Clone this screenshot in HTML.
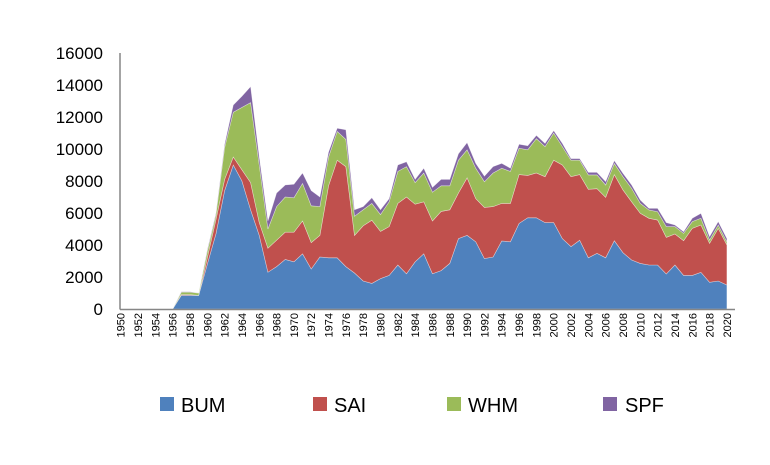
<!DOCTYPE html>
<html><head><meta charset="utf-8"><style>
body{margin:0;background:#fff;}
svg{display:block;font-family:"Liberation Sans",sans-serif;}
</style></head><body>
<svg id="chart" width="770" height="465">
  <g id="areas"></g>
  <line x1="120" y1="53" x2="120" y2="309.5" stroke="#868686" stroke-width="1.5"/>
  <line x1="120" y1="309.5" x2="735" y2="309.5" stroke="#868686" stroke-width="1.5"/>
  <g id="yticks"></g>
  <g id="xticks"></g>
  <g>
    <g><rect x="160" y="397" width="14" height="14" fill="#4F81BD"/><text x="181" y="412" font-size="20">BUM</text></g>
    <g><rect x="313" y="397" width="14" height="14" fill="#C0504D"/><text x="334" y="412" font-size="20">SAI</text></g>
    <g><rect x="447" y="397" width="14" height="14" fill="#9BBB59"/><text x="468" y="412" font-size="20">WHM</text></g>
    <g><rect x="603" y="397" width="14" height="14" fill="#8064A2"/><text x="625" y="412" font-size="20">SPF</text></g>
  </g>
</svg>
<script>
const years = [];
for (let y = 1950; y <= 2020; y++) years.push(y);
const bum = [0,0,0,0,0,0,0,.85,.85,.85,2.8,4.7,7.4,9.0,8.0,6.2,4.6,2.3,2.65,3.1,2.95,3.45,2.5,3.25,3.2,3.2,2.65,2.25,1.75,1.6,1.9,2.1,2.75,2.2,2.95,3.45,2.2,2.4,2.85,4.4,4.6,4.2,3.15,3.25,4.25,4.2,5.35,5.7,5.7,5.4,5.4,4.4,3.9,4.3,3.2,3.48,3.2,4.27,3.52,3.06,2.85,2.75,2.75,2.19,2.75,2.1,2.1,2.29,1.67,1.75,1.5].map(v=>v*1000);
const sai = [0,0,0,0,0,0,0,.05,.05,0,.4,.9,.7,.5,.7,1.7,.8,1.5,1.65,1.7,1.85,2.05,1.65,1.35,4.5,6.1,6.25,2.35,3.45,3.95,2.95,3.05,3.85,4.8,3.6,3.25,3.3,3.7,3.35,2.85,3.6,2.7,3.2,3.15,2.35,2.4,3.05,2.65,2.8,2.87,3.9,4.6,4.37,4.1,4.28,4.04,3.78,4.13,3.92,3.64,3.13,2.92,2.81,2.29,1.94,2.17,2.94,2.96,2.43,3.29,2.5].map(v=>v*1000);
const whm = [0,0,0,0,0,0,0,.15,.15,.15,.4,.3,2.0,2.8,3.9,5.0,3.6,1.2,2.1,2.2,2.15,2.35,2.3,1.8,1.8,1.8,1.7,1.2,1.0,1.05,1.05,1.55,2.0,1.9,1.35,1.8,1.8,1.6,1.5,2.05,1.75,1.9,1.6,2.1,2.2,2.0,1.65,1.6,2.15,1.88,1.7,1.15,1.03,.9,.9,.86,.77,.7,.83,.84,.62,.52,.52,.67,.46,.46,.42,.42,.21,.21,.19].map(v=>v*1000);
const spf = [0,0,0,0,0,0,0,.03,.03,0,.1,.1,.2,.45,.7,1.0,.5,.5,.85,.75,.85,.65,.95,.6,.3,.2,.6,.4,.2,.35,.3,.2,.4,.3,.2,.3,.3,.4,.4,.4,.45,.3,.35,.4,.3,.2,.25,.25,.2,.2,.15,.2,.1,.1,.16,.16,.21,.17,.21,.21,.21,.1,.21,.25,.1,.1,.21,.31,.21,.21,.21].map(v=>v*1000);
const yTickLabels = ["0","2000","4000","6000","8000","10000","12000","14000","16000"];
const seriesNames = ["bum","sai","whm","spf"];
const seriesColors = ["#4F81BD","#C0504D","#9BBB59","#8064A2"];

const NS = "http://www.w3.org/2000/svg";
const xScale = yr => 120.7 + (yr - 1950) * 8.66;
const yScale = v => 309 - v * 0.016;

const series = [bum, sai, whm, spf];
const areas = document.getElementById('areas');
let base = years.map(() => 0);
series.forEach((s, i) => {
  const top = base.map((b, j) => b + s[j]);
  let d = "M" + years.map((yr, j) => xScale(yr).toFixed(2) + "," + yScale(top[j]).toFixed(2)).join(" L");
  for (let j = years.length - 1; j >= 0; j--) d += " L" + xScale(years[j]).toFixed(2) + "," + yScale(base[j]).toFixed(2);
  d += " Z";
  const p = document.createElementNS(NS, 'path');
  p.setAttribute('d', d);
  p.setAttribute('fill', seriesColors[i]);
  p.setAttribute('stroke', '#ffffff');
  p.setAttribute('stroke-width', '0.6');
  p.setAttribute('stroke-opacity', '0.5');
  
  
  areas.appendChild(p);
  base = top;
});

const yt = document.getElementById('yticks');
yTickLabels.forEach(lbl => {
  const t = document.createElementNS(NS, 'text');
  t.setAttribute('x', 103);
  t.setAttribute('y', yScale(+lbl) + 6);
  t.setAttribute('text-anchor', 'end');
  t.setAttribute('font-size', '17');
  t.textContent = lbl;
  
  
  yt.appendChild(t);
});

const xt = document.getElementById('xticks');
years.filter(y => y % 2 === 0).forEach(yr => {
  const t = document.createElementNS(NS, 'text');
  const x = xScale(yr) + 4;
  t.setAttribute('x', x);
  t.setAttribute('y', 313);
  t.setAttribute('text-anchor', 'end');
  t.setAttribute('font-size', '11');
  t.setAttribute('transform', 'rotate(-90 ' + x + ' 313)');
  t.textContent = yr;
  
  
  xt.appendChild(t);
});
</script>
</body></html>
